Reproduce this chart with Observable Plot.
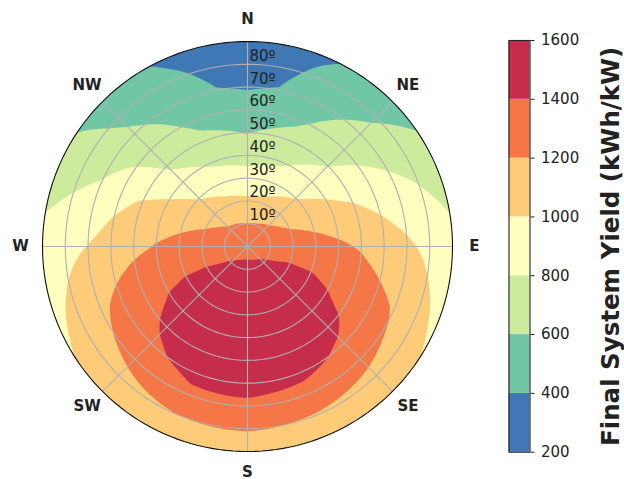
<!DOCTYPE html>
<html>
<head>
<meta charset="utf-8">
<script src="https://cdn.jsdelivr.net/npm/d3@7"></script>
<script src="https://cdn.jsdelivr.net/npm/@observablehq/plot@0.6"></script>
<style>
  body { margin: 0; background: #fff; }
  #chart { position: relative; width: 624px; height: 479px; }
  #chart svg { position: absolute; top: 0; }
</style>
</head>
<body>
<div id="chart"></div>
<script>
// ---- Data ----
// Panel azimuth (deg clockwise from North)
const azimuths = [0, 11.25, 22.5, 45, 67.5, 90, 112.5, 135, 157.5, 180, 202.5, 225, 247.5, 270, 292.5, 315, 337.5, 348.75];
// Panel tilt (deg)
const tilts = [0, 10, 20, 30, 40, 50, 60, 70, 80, 90];
// Final system yield (kWh/kW), one row per azimuth, one value per tilt
const yieldRows = [
  [1350, 1203, 1034, 875, 729, 594, 484, 387, 334, 280],   // 0   N
  [1350, 1207, 1042, 889, 752, 630, 519, 408, 348, 300],   // 11.25
  [1350, 1214, 1056, 908, 775, 666, 573, 507, 440, 373],   // 22.5
  [1350, 1239, 1118, 994, 893, 794, 721, 648, 577, 510],   // 45  NE
  [1350, 1275, 1200, 1133, 1067, 1000, 926, 852, 777, 700],// 67.5
  [1350, 1340, 1315, 1280, 1235, 1181, 1107, 1034, 954, 870], // 90 E
  [1350, 1381, 1405, 1405, 1375, 1314, 1252, 1183, 1069, 955], // 112.5
  [1350, 1415, 1460, 1480, 1470, 1450, 1369, 1257, 1145, 1060], // 135 SE
  [1350, 1430, 1490, 1515, 1510, 1480, 1450, 1326, 1186, 1100], // 157.5
  [1350, 1440, 1500, 1530, 1530, 1500, 1455, 1370, 1215, 1080], // 180 S
  [1350, 1430, 1490, 1515, 1510, 1480, 1445, 1360, 1200, 1080], // 202.5
  [1350, 1410, 1450, 1465, 1455, 1425, 1370, 1250, 1140, 1050], // 225 SW
  [1350, 1375, 1390, 1390, 1370, 1320, 1245, 1160, 1060, 960],  // 247.5
  [1350, 1335, 1300, 1260, 1213, 1148, 1084, 1005, 945, 880],   // 270 W
  [1350, 1275, 1200, 1140, 1080, 1015, 940, 820, 755, 690],     // 292.5
  [1350, 1228, 1109, 991, 875, 775, 702, 629, 560, 510],        // 315 NW
  [1350, 1214, 1056, 908, 770, 644, 557, 492, 426, 360],        // 337.5
  [1350, 1207, 1042, 889, 750, 620, 515, 407, 348, 305]         // 348.75
];
// Contour levels and colours (Spectral_r, 7 bands)
const levels = [200, 400, 600, 800, 1000, 1200, 1400, 1600];
const bandColors = ["#3f78b5", "#70c6a5", "#cdeb9d", "#feffbe", "#fecb79", "#f57647", "#c52d4b"];
// Grid and labels
const ringTilts = [10, 20, 30, 40, 50, 60, 70, 80];
const ringLabels = ["10º", "20º", "30º", "40º", "50º", "60º", "70º", "80º"];
const compassNames = ["N", "NE", "E", "SE", "S", "SW", "W", "NW"];
const compassAz = [0, 45, 90, 135, 180, 225, 270, 315];
const colorbarLabel = "Final System Yield (kWh/kW)";

// ---- helpers ----
const rad = Math.PI / 180;
function yieldAt(az, t) {
  const A = azimuths.concat(360);
  const R = yieldRows.concat([yieldRows[0]]);
  let i = d3.bisectRight(A, az) - 1;
  i = Math.max(0, Math.min(i, A.length - 2));
  const s = (az - A[i]) / (A[i + 1] - A[i]);
  let j = d3.bisectRight(tilts, t) - 1;
  j = Math.max(0, Math.min(j, tilts.length - 2));
  const u = (t - tilts[j]) / (tilts[j + 1] - tilts[j]);
  const a = R[i][j] * (1 - u) + R[i][j + 1] * u;
  const b = R[i + 1][j] * (1 - u) + R[i + 1][j + 1] * u;
  return a * (1 - s) + b * s;
}
const circlePts = (tilt) => d3.range(0, 361, 2).map(a => ({tilt, x: tilt * Math.sin(a * rad), y: tilt * Math.cos(a * rad)}));
const ringPts = ringTilts.flatMap(circlePts);
const outerPts = circlePts(90);

const font = "'DejaVu Sans', sans-serif";
const color = {type: "threshold", domain: levels.slice(1, -1), range: bandColors};

const polar = Plot.plot({
  width: 500, height: 479,
  marginLeft: 42, marginRight: 48, marginTop: 41, marginBottom: 28,
  x: {domain: [-90, 90], axis: null},
  y: {domain: [-90, 90], axis: null},
  color,
  style: {fontFamily: font, fontSize: "15px", color: "#222", background: "transparent", overflow: "visible"},
  marks: [
    Plot.contour({
      fill: (x, y) => {
        const r = Math.hypot(x, y);
        const az = (Math.atan2(x, y) / rad + 360) % 360;
        return yieldAt(az, Math.min(r, 90));
      },
      x1: -90, y1: -90, x2: 90, y2: 90,
      thresholds: levels, pixelSize: 1
    }),
    Plot.line(ringPts, {x: "x", y: "y", z: "tilt", stroke: "#b0b0b0", strokeWidth: 1.1}),
    Plot.link(compassAz, {x1: () => 0, y1: () => 0, x2: a => 90 * Math.sin(a * rad), y2: a => 90 * Math.cos(a * rad), stroke: "#b0b0b0", strokeWidth: 1.1}),
    Plot.line(outerPts, {x: "x", y: "y", stroke: "#111", strokeWidth: 1.1}),
    Plot.text(ringTilts, {x: () => 0, y: d => d, text: (d, i) => ringLabels[i], textAnchor: "start", lineAnchor: "bottom", dx: 2, dy: -3.5, fontSize: 15, fill: "#222"}),
    Plot.text(compassNames, {x: (d, i) => 99.6 * Math.sin(compassAz[i] * rad), y: (d, i) => 99.6 * Math.cos(compassAz[i] * rad), text: d => d, fontWeight: "bold", fontSize: 15, fill: "#222", dy: -0.8})
  ]
});
polar.style.left = "0px";

// clip contour bands to the polar disk
const sx = polar.scale("x"), sy = polar.scale("y");
const cx = sx.apply(0), cy = sy.apply(0), R = sx.apply(90) - cx;
const psvg = d3.select(polar);
psvg.insert("defs", ":first-child").append("clipPath").attr("id", "disk")
  .append("circle").attr("cx", cx).attr("cy", cy).attr("r", R);
psvg.select('g[aria-label="contour"]').attr("clip-path", "url(#disk)");

const bar = Plot.plot({
  width: 134, height: 479,
  marginLeft: 18.5, marginRight: 94.5, marginTop: 40, marginBottom: 27.3,
  y: {domain: [200, 1600]},
  color,
  style: {fontFamily: font, fontSize: "15px", color: "#222", background: "transparent", overflow: "visible"},
  marks: [
    Plot.rect(d3.pairs(levels), {y1: d => d[0], y2: d => d[1], fill: d => d[0]}),
    Plot.frame({stroke: "#222", strokeWidth: 1.1}),
    Plot.axisY({anchor: "right", ticks: levels, tickSize: 4, tickPadding: 7, tickFormat: d => String(d), label: null, fontSize: 15, fill: "#222"}),
    Plot.text([colorbarLabel], {text: d => d, frameAnchor: "right", rotate: -90, dx: 81, fontSize: 24.5, fontWeight: "bold", fill: "#222", textAnchor: "middle", lineAnchor: "middle"})
  ]
});
bar.style.left = "490px";

document.getElementById("chart").append(polar, bar);
</script>
</body>
</html>
